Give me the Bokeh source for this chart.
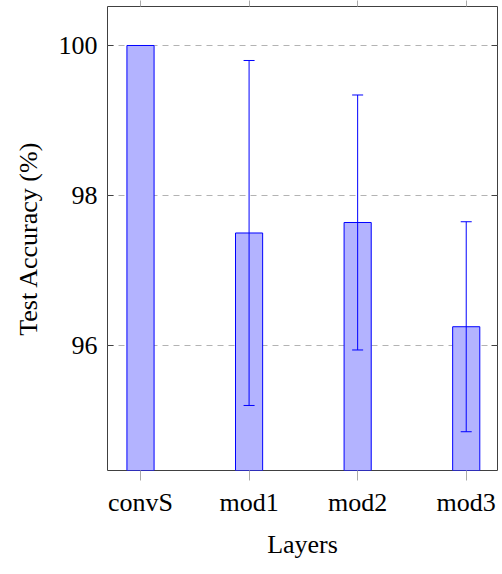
from bokeh.plotting import figure
from bokeh.models import (ColumnDataSource, Range1d, FixedTicker, LinearAxis,
                          Whisker, TeeHead)
from bokeh.embed import file_html
from bokeh.resources import INLINE

categories = ["convS", "mod1", "mod2", "mod3"]
accuracy = [100.0, 97.5, 97.64, 96.25]
errors = [0.0, 2.3, 1.7, 1.4]
y_ticks = [96, 98, 100]

FONT = "Liberation Serif"
FS = "26px"
BLUE = "#0000ff"
FILL = "#b3b3ff"

xs = list(range(len(categories)))
src = ColumnDataSource(dict(x=xs, top=accuracy, bottom=[0.0] * len(xs)))

wx, wu, wl = [], [], []
for x, v, e in zip(xs, accuracy, errors):
    if e > 0:
        wx.append(x)
        wu.append(v + e)
        wl.append(v - e)
wsrc = ColumnDataSource(dict(x=wx, upper=wu, lower=wl))

p = figure(width=502, height=574, output_backend="svg", toolbar_location=None,
           x_range=Range1d(-0.304, 3.288), y_range=Range1d(94.333, 100.52),
           min_border_left=107, min_border_right=5, min_border_top=6,
           min_border_bottom=104)
p.background_fill_color = "white"
p.border_fill_color = "white"
p.outline_line_color = "#404040"
p.outline_line_width = 1

p.vbar(x="x", top="top", bottom="bottom", width=0.25, source=src,
       fill_color=FILL, line_color=BLUE, line_width=1)

w = Whisker(base="x", upper="upper", lower="lower", source=wsrc,
            line_color=BLUE, line_width=1, level="overlay",
            upper_head=TeeHead(size=11, line_color=BLUE, line_width=1),
            lower_head=TeeHead(size=11, line_color=BLUE, line_width=1))
p.add_layout(w)

# bottom x axis
xa = p.xaxis[0]
xa.ticker = FixedTicker(ticks=xs)
xa.major_label_overrides = {i: c for i, c in enumerate(categories)}
xa.axis_line_color = None
xa.major_tick_in = 0
xa.major_tick_out = 10
xa.major_tick_line_color = "#aaaaaa"
xa.minor_tick_line_color = None
xa.major_label_text_font = FONT
xa.major_label_text_font_size = FS
xa.major_label_text_color = "black"
xa.major_label_standoff = 7
xa.axis_label = "Layers"
xa.axis_label_text_font = FONT
xa.axis_label_text_font_size = FS
xa.axis_label_text_font_style = "normal"
xa.axis_label_text_color = "black"
xa.axis_label_standoff = 10

# left y axis
ya = p.yaxis[0]
ya.ticker = FixedTicker(ticks=y_ticks)
ya.axis_line_color = None
ya.major_tick_in = 6
ya.major_tick_out = 0
ya.major_tick_line_color = "#404040"
ya.minor_tick_line_color = None
ya.major_label_text_font = FONT
ya.major_label_text_font_size = FS
ya.major_label_text_color = "black"
ya.major_label_standoff = 10
ya.axis_label = "Test Accuracy (%)"
ya.axis_label_text_font = FONT
ya.axis_label_text_font_size = FS
ya.axis_label_text_font_style = "normal"
ya.axis_label_text_color = "black"
ya.axis_label_standoff = 13

# mirrored axes
ta = LinearAxis(ticker=FixedTicker(ticks=xs), axis_line_color=None,
                major_tick_in=0, major_tick_out=6,
                major_tick_line_color="#aaaaaa", minor_tick_line_color=None,
                major_label_text_font_size="0px", major_label_text_color=None,
                major_label_standoff=0)
p.add_layout(ta, "above")
ra = LinearAxis(ticker=FixedTicker(ticks=y_ticks), axis_line_color=None,
                major_tick_in=6, major_tick_out=0,
                major_tick_line_color="#404040", minor_tick_line_color=None,
                major_label_text_font_size="0px", major_label_text_color=None,
                major_label_standoff=0)
p.add_layout(ra, "right")

p.xgrid.grid_line_color = None
p.ygrid.ticker = FixedTicker(ticks=y_ticks)
p.ygrid.grid_line_color = "#b3b3b3"
p.ygrid.grid_line_dash = "6 5"
p.ygrid.grid_line_width = 1

open("out.html", "w").write(file_html(p, INLINE))
